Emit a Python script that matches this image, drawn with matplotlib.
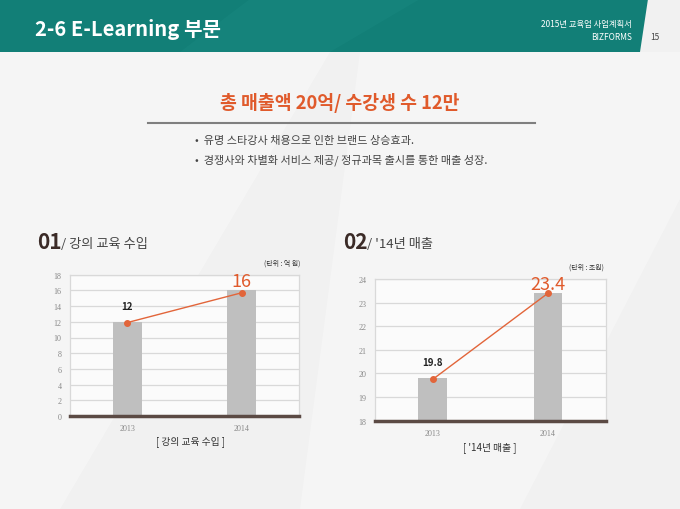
import matplotlib
matplotlib.use("Agg")
import matplotlib.pyplot as plt
from matplotlib.patches import Polygon

KR = ['Noto Sans CJK KR', 'DejaVu Sans']
plt.rcParams['font.family'] = KR

# ---- data ----
categories = ['2013', '2014']
lecture_bars = [12, 16]
lecture_line = [11.9, 15.7]
lecture_ticks = [0, 2, 4, 6, 8, 10, 12, 14, 16, 18]
sales_bars = [19.8, 23.4]
sales_line = [19.75, 23.4]
sales_ticks = [18, 19, 20, 21, 22, 23, 24]

W, H = 680, 510
fig = plt.figure(figsize=(W / 100, H / 100), dpi=100)
fig.patch.set_facecolor('#f1f1f1')


def fx(x):
    return x / W


def fy(y):
    return 1 - y / H


# background decorative shapes
bg = fig.add_axes([0, 0, 1, 1], zorder=-10)
bg.set_xlim(0, W)
bg.set_ylim(H, 0)
bg.axis('off')
bg.add_patch(Polygon([(0, 53), (330, 53), (60, 510), (0, 510)], closed=True,
                     facecolor='white', alpha=0.35, lw=0))
bg.add_patch(Polygon([(360, 53), (680, 53), (680, 200), (520, 510), (300, 510)],
                     closed=True, facecolor='white', alpha=0.3, lw=0))
# header band
bg.add_patch(Polygon([(0, 0), (648, 0), (640, 53), (0, 53)], closed=True,
                     facecolor='#127f77', lw=0))
bg.add_patch(Polygon([(250, 0), (420, 0), (330, 53), (180, 53)], closed=True,
                     facecolor='#1a8a82', alpha=0.4, lw=0))
# divider under heading
bg.plot([148, 535], [124, 124], color='#7f7f7f', lw=1.5)

fig.text(fx(35), fy(30), '2-6 E-Learning 부문', color='white', fontsize=14.5,
         fontweight='bold', ha='left', va='center', family=KR)
fig.text(fx(632), fy(24), '2015년 교육업 사업계획서', color='white', fontsize=6,
         ha='right', va='center')
fig.text(fx(632), fy(38), 'BIZFORMS', color='white', fontsize=6,
         ha='right', va='center')
fig.text(fx(655), fy(38), '15', color='#444444', fontsize=6,
         ha='center', va='center')

fig.text(fx(340), fy(103), '총 매출액 20억/ 수강생 수 12만', color='#e05a2b',
         fontsize=13.2, fontweight='bold', ha='center', va='center')
fig.text(fx(195), fy(141), '•  유명 스타강사 채용으로 인한 브랜드 상승효과.', color='#444444',
         fontsize=8, ha='left', va='center')
fig.text(fx(195), fy(160), '•  경쟁사와 차별화 서비스 제공/ 정규과목 출시를 통한 매출 성장.',
         color='#444444', fontsize=8, ha='left', va='center')


def section(x, num, label):
    fig.text(fx(x), fy(243), num, color='#3b2b27', fontsize=15, fontweight='bold',
             ha='left', va='center')
    fig.text(fx(x + 24), fy(244), label, color='#444444', fontsize=9.5,
             ha='left', va='center')


section(37, '01', '/ 강의 교육 수입')
section(343, '02', "/ '14년 매출")


def chart(box, bars, line, ticks, unit, unit_xy, caption, cap_xy, small_lbl, big_lbl, fmt):
    l, t, r, b = box
    ax = fig.add_axes([fx(l), fy(b), fx(r - l), (b - t) / H])
    ax.set_facecolor('#fbfbfb')
    x = list(range(len(categories)))
    ax.bar(x, [v - ticks[0] for v in bars], bottom=ticks[0], width=0.25,
           color='#bfbfbf', zorder=2)
    ax.plot(x, line, color='#e2653a', lw=1, marker='o', markersize=4, zorder=3)
    ax.set_xlim(-0.5, 1.5)
    ax.set_ylim(ticks[0], ticks[-1])
    ax.set_yticks(ticks)
    ax.set_xticks(x)
    ax.set_xticklabels(categories)
    ax.grid(axis='y', color='#d9d9d9', lw=0.9, zorder=0)
    ax.set_axisbelow(True)
    for s in ['top', 'right', 'left']:
        ax.spines[s].set_color('#d9d9d9')
        ax.spines[s].set_linewidth(0.9)
    ax.spines['bottom'].set_color('#5b4a44')
    ax.spines['bottom'].set_linewidth(2.5)
    ax.spines['bottom'].set_zorder(5)
    ax.tick_params(length=0, labelsize=5.8, labelcolor='#888888', pad=6)
    for lbl in ax.get_xticklabels() + ax.get_yticklabels():
        lbl.set_family('Liberation Serif')
    ax.annotate(fmt(bars[0]), (0, bars[0]), xytext=(0, 8), textcoords='offset points',
                ha='center', va='bottom', fontsize=small_lbl, fontweight='bold',
                color='#222222')
    ax.annotate(fmt(bars[1]), (1, bars[1]), xytext=(0, 0), textcoords='offset points',
                ha='center', va='bottom', fontsize=big_lbl, color='#e05a2b')
    fig.text(fx(unit_xy[0]), fy(unit_xy[1]), unit, fontsize=5, color='#333333',
             ha='right', va='center')
    fig.text(fx(cap_xy[0]), fy(cap_xy[1]), caption, fontsize=7, color='#333333',
             ha='center', va='center')
    return ax


chart((70, 275.7, 299, 417), lecture_bars, lecture_line, lecture_ticks,
      '(단위 : 억 원)', (300, 264), '[ 강의 교육 수입 ]', (190, 442), 7, 13,
      lambda v: f'{v:g}')
chart((375, 280, 605.7, 421.7), sales_bars, sales_line, sales_ticks,
      '(단위 : 조원)', (604, 268), "[ '14년 매출 ]", (490, 448), 7, 13,
      lambda v: f'{v:.1f}')

fig.savefig('out.png', dpi=100, facecolor=fig.get_facecolor())
